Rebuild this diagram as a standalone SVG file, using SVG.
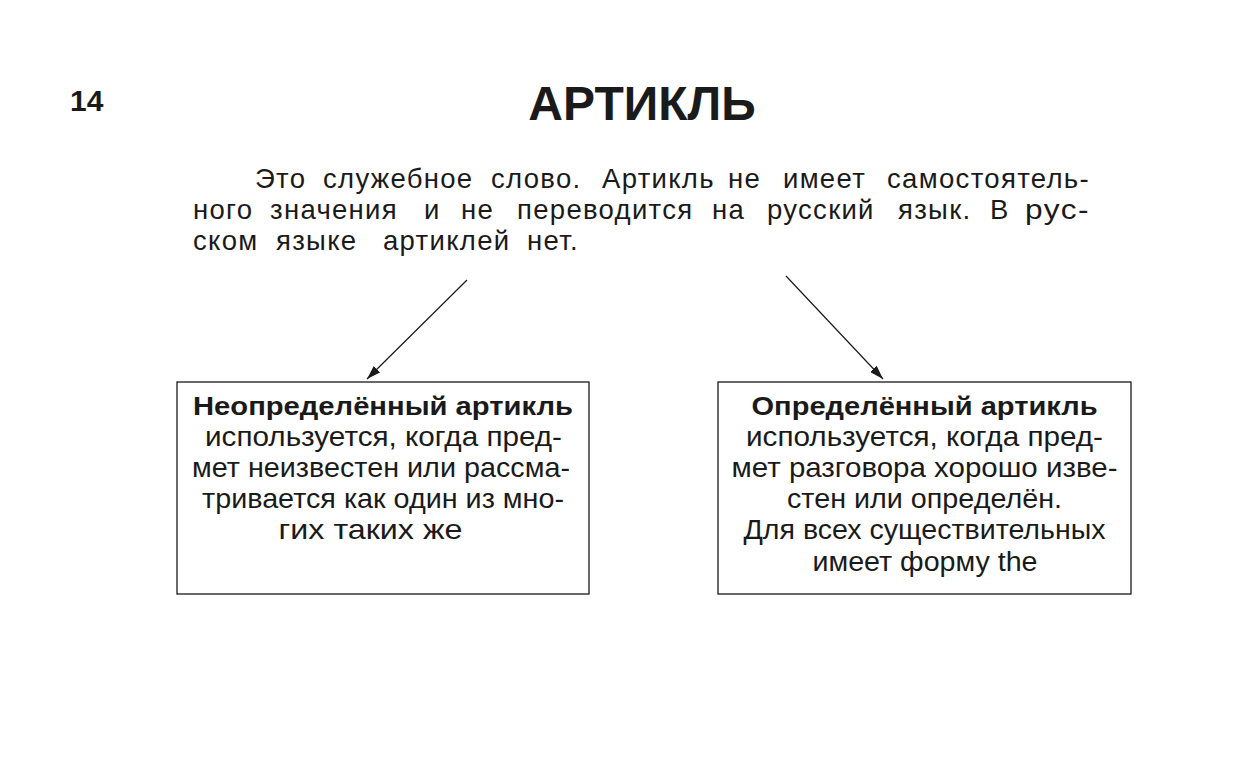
<svg xmlns="http://www.w3.org/2000/svg" width="1241" height="768" viewBox="0 0 1241 768">
<style>
text{font-family:"Liberation Sans",Arial,sans-serif;fill:#1a1a1a}
.para{font-size:27.5px;letter-spacing:1.3px}
.box{fill:#fff;stroke:#1a1a1a;stroke-width:1.3}
.bt{font-size:27.5px;text-anchor:middle}
.bh{font-size:26px;font-weight:bold;text-anchor:middle}
.conn{stroke:#1a1a1a;stroke-width:1.2;fill:none}
</style>
<defs>
<marker id="ah" viewBox="0 0 14 9" refX="14" refY="4.5" markerWidth="14" markerHeight="9" markerUnits="userSpaceOnUse" orient="auto">
<path d="M0,0 L14,4.5 L0,9 Z" fill="#1a1a1a"/>
</marker>
</defs>
<rect width="1241" height="768" fill="#fff"/>
<text x="70" y="111" font-size="30" font-weight="bold">14</text>
<text x="642" y="120" font-size="48" font-weight="bold" text-anchor="middle">АРТИКЛЬ</text>
<g id="intro">
<text class="para" y="188"><tspan x="255">Это</tspan> <tspan x="323">служебное</tspan> <tspan x="491">слово.</tspan> <tspan x="602">Артикль</tspan> <tspan x="728">не</tspan> <tspan x="783">имеет</tspan> <tspan x="887" textLength="203" lengthAdjust="spacingAndGlyphs">самостоятель-</tspan></text>
<text class="para" y="219"><tspan x="193">ного</tspan> <tspan x="270">значения</tspan> <tspan x="424">и</tspan> <tspan x="461">не</tspan> <tspan x="517">переводится</tspan> <tspan x="712">на</tspan> <tspan x="767">русский</tspan> <tspan x="898">язык.</tspan> <tspan x="990">В</tspan> <tspan x="1025" textLength="65" lengthAdjust="spacingAndGlyphs">рус-</tspan></text>
<text class="para" y="250"><tspan x="193">ском</tspan> <tspan x="276">языке</tspan> <tspan x="383">артиклей</tspan> <tspan x="527">нет.</tspan></text>
</g>
<g id="connectors">
<line class="conn" x1="467" y1="280" x2="367" y2="379" marker-end="url(#ah)"/>
<line class="conn" x1="786" y1="276" x2="883" y2="379" marker-end="url(#ah)"/>
</g>
<g id="indefinite">
<rect class="box" x="177" y="382" width="412" height="212"/>
<text class="bh" x="383" y="415" textLength="380" lengthAdjust="spacingAndGlyphs">Неопределённый артикль</text>
<text class="bt" x="383.5" y="446" textLength="357" lengthAdjust="spacingAndGlyphs">используется, когда пред-</text>
<text class="bt" x="381" y="477" textLength="378" lengthAdjust="spacingAndGlyphs">мет неизвестен или рассма-</text>
<text class="bt" x="383" y="508" textLength="362" lengthAdjust="spacingAndGlyphs">тривается как один из мно-</text>
<text class="bt" x="370.5" y="539" textLength="184" lengthAdjust="spacingAndGlyphs">гих таких же</text>
</g>
<g id="definite">
<rect class="box" x="718" y="382" width="413" height="212"/>
<text class="bh" x="924.5" y="415" textLength="346" lengthAdjust="spacingAndGlyphs">Определённый артикль</text>
<text class="bt" x="924.5" y="446" textLength="357" lengthAdjust="spacingAndGlyphs">используется, когда пред-</text>
<text class="bt" x="924.5" y="477" textLength="386" lengthAdjust="spacingAndGlyphs">мет разговора хорошо изве-</text>
<text class="bt" x="924.5" y="508" textLength="275" lengthAdjust="spacingAndGlyphs">стен или определён.</text>
<text class="bt" x="924.5" y="539" textLength="362" lengthAdjust="spacingAndGlyphs">Для всех существительных</text>
<text class="bt" x="925" y="571" textLength="225" lengthAdjust="spacingAndGlyphs">имеет форму the</text>
</g>
</svg>
